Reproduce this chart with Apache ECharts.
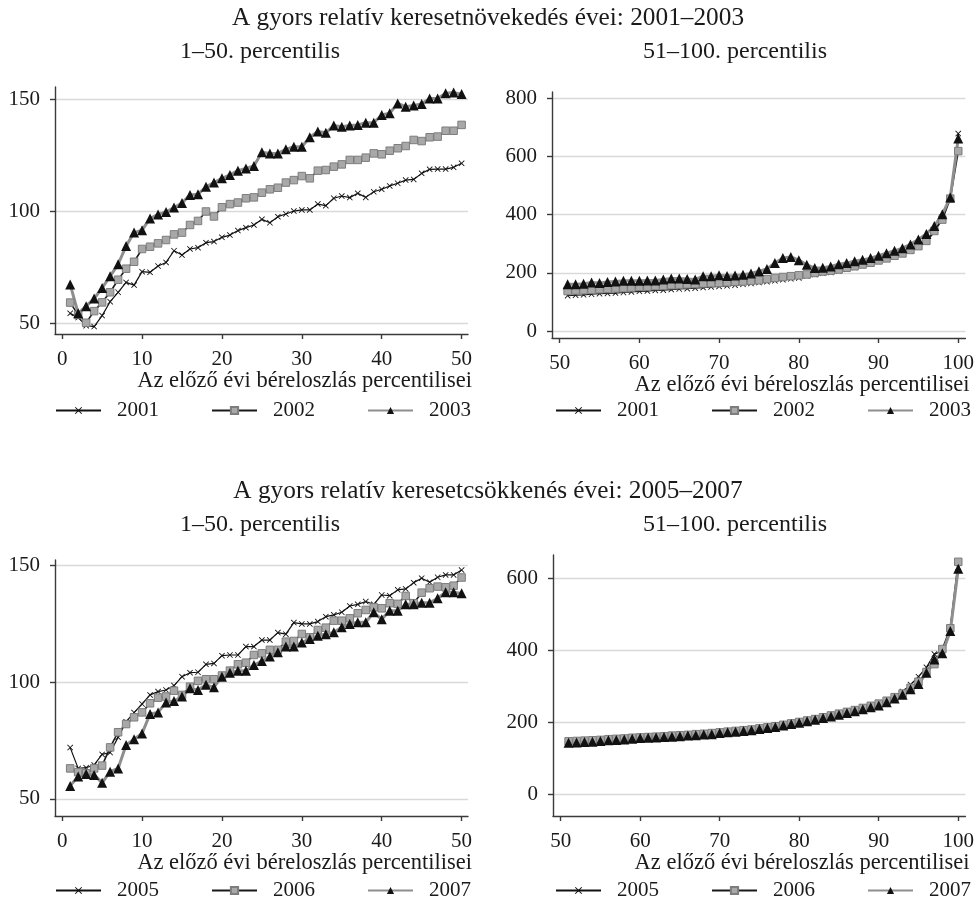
<!DOCTYPE html>
<html>
<head>
<meta charset="utf-8">
<script src="https://cdn.jsdelivr.net/npm/echarts@6/dist/echarts.min.js"></script>
<style>
html, body { margin: 0; padding: 0; background: #fff; }
#chart { width: 977px; height: 910px; }
</style>
</head>
<body>
<div id="chart"></div>
<script>
const pctLow = [1,2,3,4,5,6,7,8,9,10,11,12,13,14,15,16,17,18,19,20,21,22,23,24,25,
  26,27,28,29,30,31,32,33,34,35,36,37,38,39,40,41,42,43,44,45,46,47,48,49,50];
const pctHigh = [51,52,53,54,55,56,57,58,59,60,61,62,63,64,65,66,67,68,69,70,71,72,73,74,75,
  76,77,78,79,80,81,82,83,84,85,86,87,88,89,90,91,92,93,94,95,96,97,98,99,100];

// gyors keresetnövekedés, 1-50
const low2001 = [54.6,52.7,49.1,48.7,53.6,59.8,64.0,68.4,67.2,73.2,72.9,75.7,77.3,82.5,80.6,83.3,83.9,86.1,86.6,88.5,
  89.5,91.5,92.8,94.0,96.5,95.0,97.7,98.9,100.2,100.7,100.7,103.3,102.6,105.9,106.9,106.2,108.1,106.3,108.8,109.9,
  111.4,112.6,114.0,114.3,117.0,118.8,118.9,118.9,119.7,121.5];
const low2002 = [59.4,53.9,50.4,55.6,59.5,64.0,69.6,74.5,77.6,83.3,84.3,85.8,87.3,89.8,90.6,94.0,95.8,100.0,97.8,101.9,
  103.3,104.0,105.9,106.3,108.4,109.9,110.6,112.9,114.0,115.8,114.8,118.2,118.5,120.0,121.0,123.0,123.0,124.0,125.9,125.5,
  127.1,128.2,129.2,131.9,131.4,133.1,133.4,136.0,136.0,138.6];
const low2003 = [67.5,54.6,57.8,61.2,65.9,71.1,76.5,84.6,90.6,91.7,96.9,98.7,99.8,101.8,103.8,107.4,107.7,111.0,112.9,114.8,
  116.3,118.2,119.2,120.3,126.4,125.9,125.9,127.7,128.9,128.9,133.1,135.7,135.1,138.3,137.8,138.3,138.6,139.6,139.6,143.0,
  143.8,148.2,146.7,147.3,147.9,150.4,150.4,152.7,153.0,152.4];

// gyors keresetnövekedés, 51-100
const high2001 = [122,124,125,127,129,130,131,133,135,137,138,140,141,143,145,146,148,150,152,154,
  156,158,161,164,167,170,173,177,180,183,190,195,199,202,207,213,219,226,232,240,
  248,256,264,275,290,306,341,392,455,678];
const high2002 = [138,140,141,142,144,145,147,148,150,152,153,155,156,158,160,161,162,164,165,166,
  168,170,171,173,175,179,183,186,189,192,195,200,205,208,212,218,223,229,235,243,
  250,259,267,279,292,310,344,383,455,618];
const high2003 = [161,161,163,167,166,169,171,173,173,173,174,174,178,181,181,179,178,189,189,192,
  190,191,194,198,206,214,234,251,255,244,228,217,218,222,230,234,240,245,251,259,
  268,276,285,298,315,334,361,401,459,661];

// gyors keresetcsökkenés, 1-50
const low2005 = [72.0,63.1,63.4,64.6,69.1,69.9,76.4,83.1,87.0,90.7,94.6,96.0,96.7,98.6,102.4,104.1,104.3,107.7,108.1,111.4,
  111.7,111.7,115.3,115.3,118.1,118.1,121.3,120.6,125.6,125.0,125.0,126.0,128.1,128.9,130.0,132.7,133.4,134.6,133.4,137.4,
  137.1,139.6,140.0,142.7,144.6,142.9,145.0,146.0,146.0,148.1];
const low2006 = [63.1,61.5,61.0,63.1,64.3,72.1,78.6,82.1,85.0,87.1,91.0,93.4,93.9,96.4,94.6,98.1,100.6,101.3,101.3,102.9,
  105.0,107.7,108.4,111.7,112.4,113.9,113.9,117.4,117.7,120.7,119.3,122.4,123.4,126.4,126.4,127.4,129.6,131.0,132.1,131.7,
  133.9,133.6,137.0,133.9,138.4,140.3,141.0,140.7,141.4,144.9];
const low2007 = [55.6,59.6,60.7,60.3,56.9,61.7,63.1,73.1,75.6,78.1,86.4,87.1,91.3,92.0,93.9,97.4,96.7,98.9,97.9,102.4,
  104.1,104.9,104.9,107.4,109.1,111.0,112.9,115.3,115.3,117.0,118.6,119.9,120.6,121.4,123.6,125.0,125.7,125.7,130.0,127.0,
  130.7,130.7,133.4,133.4,134.1,134.1,136.0,138.6,138.6,138.1];

// gyors keresetcsökkenés, 51-100
const high2005 = [146,147,148,149,151,152,153,155,156,158,159,160,162,163,165,166,168,170,171,173,
  175,177,180,182,185,188,191,195,199,203,207,212,217,222,227,232,237,243,249,255,
  263,273,286,305,327,353,390,398,462,632];
const high2006 = [147,148,149,150,151,153,154,155,157,158,159,160,161,163,164,165,167,168,170,172,
  174,176,178,180,183,186,189,193,197,201,205,209,214,219,224,229,234,240,246,252,
  260,270,280,296,313,340,362,404,462,647];
const high2007 = [143,144,145,146,148,150,151,152,154,156,157,158,159,160,161,163,164,166,167,170,
  172,174,176,178,181,184,187,191,195,199,203,207,212,216,221,226,231,236,242,247,
  256,266,277,292,307,338,375,392,454,628];

const yearsUp = ['2001', '2002', '2003'];
const yearsDown = ['2005', '2006', '2007'];
const ticksLow = [0, 10, 20, 30, 40, 50];
const ticksHigh = [50, 60, 70, 80, 90, 100];

const FONT = 'Liberation Serif';
const TXT = '#1a1a1a';
const AX = '#3a3a3a';
const crossPath = 'path://M0,1L1,0L5,4L9,0L10,1L6,5L10,9L9,10L5,6L1,10L0,9L4,5Z';
const xName = 'Az előző évi béreloszlás percentilisei';

const grids = [
  { left: 55, top: 87, width: 413, height: 247 },
  { left: 552, top: 92, width: 415, height: 246 },
  { left: 55, top: 560, width: 413, height: 256 },
  { left: 553, top: 555, width: 414, height: 261 }
];

function xAxisFor(idx, min, max, ticks) {
  return {
    type: 'value', gridIndex: idx, min: min, max: max,
    axisLine: { show: true, onZero: false, lineStyle: { color: AX, width: 1.4 } },
    axisTick: { show: true, length: 5, customValues: ticks, lineStyle: { color: AX, width: 1.4 } },
    axisLabel: { customValues: ticks, margin: 15, fontFamily: FONT, fontSize: 21, color: TXT },
    splitLine: { show: false },
    name: xName, nameLocation: 'end', nameGap: 4,
    nameTextStyle: { align: 'right', verticalAlign: 'top', padding: [36, 0, 0, 0], fontFamily: FONT, fontSize: 22.5, color: TXT }
  };
}

function yAxisFor(idx, min, max, ticks) {
  return {
    type: 'value', gridIndex: idx, min: min, max: max,
    axisLine: { show: true, onZero: false, lineStyle: { color: AX, width: 1.4 } },
    axisTick: { show: true, length: 5, customValues: ticks, lineStyle: { color: AX, width: 1.4 } },
    axisLabel: { customValues: ticks, margin: 15, fontFamily: FONT, fontSize: 21, color: TXT },
    splitLine: { show: true, lineStyle: { color: '#d9d9d9', width: 1.4 } }
  };
}

function line(name, xs, ys, idx, kind) {
  const s = {
    name: name, type: 'line', xAxisIndex: idx, yAxisIndex: idx,
    data: xs.map((x, i) => [x, ys[i]]),
    showAllSymbol: true, animation: false
  };
  if (kind === 0) {
    s.symbol = crossPath; s.symbolSize = 6;
    s.lineStyle = { color: '#111', width: 1.2 };
    s.itemStyle = { color: '#111' };
  } else if (kind === 1) {
    s.symbol = 'rect'; s.symbolSize = 7.5;
    s.lineStyle = { color: '#1a1a1a', width: 1.6 };
    s.itemStyle = { color: '#a8a8a8', borderColor: '#7d7d7d', borderWidth: 1 };
  } else {
    s.symbol = 'triangle'; s.symbolSize = 10;
    s.lineStyle = { color: '#8e8e8e', width: 3 };
    s.itemStyle = { color: '#111' };
  }
  return s;
}

function legendFor(left, top, names) {
  return {
    left: left, top: top, width: 420, padding: 0, orient: 'horizontal', data: names,
    itemWidth: 45, itemHeight: 9, itemGap: 52, selectedMode: false,
    textStyle: { fontFamily: FONT, fontSize: 21, color: TXT, padding: [0, 0, 0, 11] }
  };
}

function titleAt(text, x, top, size) {
  return { text: text, left: x, top: top, textAlign: 'center', padding: 0,
    textStyle: { fontFamily: FONT, fontSize: size, fontWeight: 'normal', color: TXT } };
}

const option = {
  backgroundColor: '#fff',
  animation: false,
  title: [
    titleAt('A gyors relatív keresetnövekedés évei: 2001–2003', 488, 6, 25.3),
    titleAt('1–50. percentilis', 260, 40, 24),
    titleAt('51–100. percentilis', 735, 40, 24),
    titleAt('A gyors relatív keresetcsökkenés évei: 2005–2007', 488, 479, 25.3),
    titleAt('1–50. percentilis', 260, 513, 24),
    titleAt('51–100. percentilis', 735, 513, 24)
  ],
  legend: [
    legendFor(55, 400, yearsUp),
    legendFor(555, 400, yearsUp),
    legendFor(55, 880, yearsDown),
    legendFor(555, 880, yearsDown)
  ],
  grid: grids,
  xAxis: [
    xAxisFor(0, -0.9, 50.8, ticksLow),
    xAxisFor(1, 49.04, 100.9, ticksHigh),
    xAxisFor(2, -0.9, 50.8, ticksLow),
    xAxisFor(3, 49.04, 100.9, ticksHigh)
  ],
  yAxis: [
    yAxisFor(0, 45.4, 155.5, [50, 100, 150]),
    yAxisFor(1, -23, 820.6, [0, 200, 400, 600, 800]),
    yAxisFor(2, 42.7, 152.4, [50, 100, 150]),
    yAxisFor(3, -61, 666, [0, 200, 400, 600])
  ],
  series: [
    line('2001', pctLow, low2001, 0, 0),
    line('2002', pctLow, low2002, 0, 1),
    line('2003', pctLow, low2003, 0, 2),
    line('2001', pctHigh, high2001, 1, 0),
    line('2002', pctHigh, high2002, 1, 1),
    line('2003', pctHigh, high2003, 1, 2),
    line('2005', pctLow, low2005, 2, 0),
    line('2006', pctLow, low2006, 2, 1),
    line('2007', pctLow, low2007, 2, 2),
    line('2005', pctHigh, high2005, 3, 0),
    line('2006', pctHigh, high2006, 3, 1),
    line('2007', pctHigh, high2007, 3, 2)
  ]
};

const myChart = echarts.init(document.getElementById('chart'));
myChart.setOption(option);
</script>
</body>
</html>
